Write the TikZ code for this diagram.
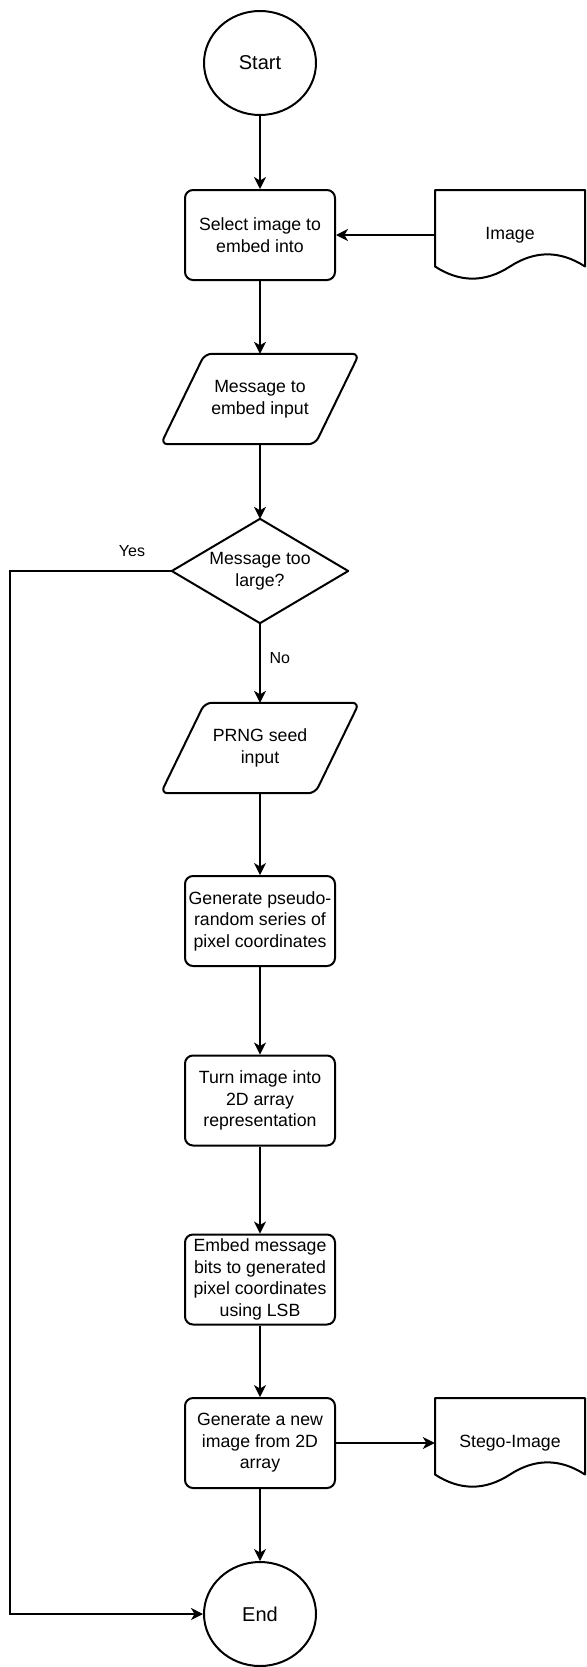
\documentclass[tikz,border=0pt]{standalone}
\usepackage{fontspec}
\setmainfont{Liberation Sans}
\usetikzlibrary{arrows.meta,shapes.geometric,calc}
\newcommand\boxfont{\fontsize{17.7pt}{21.5pt}\selectfont}
\newcommand\termfont{\fontsize{20pt}{24pt}\selectfont}
\newcommand\lblfont{\fontsize{16pt}{19pt}\selectfont}
\begin{document}
\begin{tikzpicture}[x=1pt,y=-1pt,
  box/.style={draw, line width=2pt, rounded corners=8pt, minimum width=150pt, minimum height=90pt, align=center, inner sep=0pt, font=\boxfont},
  term/.style={draw, ellipse, line width=2pt, minimum width=112pt, minimum height=104pt, inner sep=0pt, font=\termfont},
  txtbox/.style={minimum width=#1, minimum height=90pt, align=center, inner sep=0pt, font=\boxfont},
  shapeline/.style={line width=2pt, line join=round},
  conn/.style={line width=1.3pt, -{Stealth[length=12pt,width=12pt,inset=3.5pt]}},
  lbl/.style={font=\lblfont, inner sep=1pt}
]
\useasboundingbox (0,0) rectangle (586,1667);

% nodes
\node[term] (start) at (260,63) {Start};
\node[box] (sel) at (260,235) {Select image to\\embed into};
\node[txtbox=150pt] (img) at (510,235) {Image};
\draw[shapeline] (435,190) -- (585,190) -- (585,266.5)
  .. controls (560,250.3) and (535,250.3) .. (510,266.5)
  .. controls (485,282.7) and (460,282.7) .. (435,266.5) -- cycle;

\node[txtbox=198pt] (msg) at (260,399) {Message to\\embed input};
\draw[shapeline, rounded corners=7pt] ($(msg.north west)+(44,0)$) -- (msg.north east) -- ($(msg.south east)+(-44,0)$) -- (msg.south west) -- cycle;

\node[txtbox=176pt, minimum height=104pt] (dec) at (260,571) {Message too\\large?};
\draw[shapeline] (dec.north) -- (dec.east) -- (dec.south) -- (dec.west) -- cycle;

\node[txtbox=198pt] (prng) at (260,748) {PRNG seed\\input};
\draw[shapeline, rounded corners=7pt] ($(prng.north west)+(44,0)$) -- (prng.north east) -- ($(prng.south east)+(-44,0)$) -- (prng.south west) -- cycle;

\node[box] (gen1) at (260,921) {Generate pseudo-\\random series of\\pixel coordinates};
\node[box] (turn) at (260,1100.5) {Turn image into\\2D array\\representation};
\node[box] (embed) at (260,1279.5) {Embed message\\bits to generated\\pixel coordinates\\using LSB};
\node[box] (gen2) at (260,1443) {Generate a new\\image from 2D\\array};
\node[txtbox=150pt] (stego) at (510,1443) {Stego-Image};
\draw[shapeline] (435,1398) -- (585,1398) -- (585,1474.5)
  .. controls (560,1458.3) and (535,1458.3) .. (510,1474.5)
  .. controls (485,1490.7) and (460,1490.7) .. (435,1474.5) -- cycle;
\node[term] (end) at (260,1614) {End};

\node[lbl] (yes) at (132,551) {Yes};
\coordinate (yc) at (10,571);

% connectors
\draw[conn] (start) -- (sel);
\draw[conn] (img) -- (sel);
\draw[conn] (sel) -- (msg.north);
\draw[conn] (msg.south) -- (dec.north);
\draw[conn] (dec.south) -- node[lbl, anchor=west, xshift=8pt, pos=0.44, fill=white] {No} (prng.north);
\draw[conn] (dec.west) -- (yc) |- (end.west);
\draw[conn] (prng.south) -- (gen1);
\draw[conn] (gen1) -- (turn);
\draw[conn] (turn) -- (embed);
\draw[conn] (embed) -- (gen2);
\draw[conn] (gen2) -- (end);
\draw[conn] (gen2) -- (stego.west);
\end{tikzpicture}
\end{document}
